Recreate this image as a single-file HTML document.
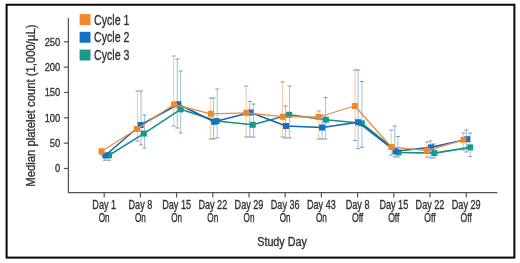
<!DOCTYPE html>
<html><head><meta charset="utf-8"><style>
html,body{margin:0;padding:0;background:#fff;}
body{width:520px;height:263px;overflow:hidden;position:relative;}
svg{position:absolute;left:0;top:0;filter:blur(0.4px);}
text{font-family:"Liberation Sans",sans-serif;fill:#333;stroke:#333;stroke-width:0.35px;}
.tk{font-size:11.6px;}
.xl{font-size:12.2px;}
.lg{font-size:14.6px;}
.tt{font-size:12.5px;}
.yt{font-size:13px;}
</style></head><body>
<svg width="520" height="263" viewBox="0 0 520 263">
<rect x="6.6" y="4.75" width="507.8" height="252.85" fill="none" stroke="#080808" stroke-width="2"/>
<path d="M68.4 18V192.7H497.3" fill="none" stroke="#555" stroke-width="1.3"/>
<path d="M63.8 168.5H68.5" stroke="#555" stroke-width="1.2"/>
<text transform="translate(60.3 172.4) scale(0.81 1)" text-anchor="end" class="tk">0</text>
<path d="M63.8 143.15H68.5" stroke="#555" stroke-width="1.2"/>
<text transform="translate(60.3 147.05) scale(0.81 1)" text-anchor="end" class="tk">50</text>
<path d="M63.8 117.8H68.5" stroke="#555" stroke-width="1.2"/>
<text transform="translate(60.3 121.7) scale(0.81 1)" text-anchor="end" class="tk">100</text>
<path d="M63.8 92.45H68.5" stroke="#555" stroke-width="1.2"/>
<text transform="translate(60.3 96.35) scale(0.81 1)" text-anchor="end" class="tk">150</text>
<path d="M63.8 67.1H68.5" stroke="#555" stroke-width="1.2"/>
<text transform="translate(60.3 71) scale(0.81 1)" text-anchor="end" class="tk">200</text>
<path d="M63.8 41.75H68.5" stroke="#555" stroke-width="1.2"/>
<text transform="translate(60.3 45.65) scale(0.81 1)" text-anchor="end" class="tk">250</text>
<path d="M104.2 192.7V197.5" stroke="#555" stroke-width="1.2"/>
<path d="M140.4 192.7V197.5" stroke="#555" stroke-width="1.2"/>
<path d="M176.6 192.7V197.5" stroke="#555" stroke-width="1.2"/>
<path d="M212.8 192.7V197.5" stroke="#555" stroke-width="1.2"/>
<path d="M249 192.7V197.5" stroke="#555" stroke-width="1.2"/>
<path d="M285.2 192.7V197.5" stroke="#555" stroke-width="1.2"/>
<path d="M321.4 192.7V197.5" stroke="#555" stroke-width="1.2"/>
<path d="M357.6 192.7V197.5" stroke="#555" stroke-width="1.2"/>
<path d="M393.8 192.7V197.5" stroke="#555" stroke-width="1.2"/>
<path d="M430 192.7V197.5" stroke="#555" stroke-width="1.2"/>
<path d="M466.2 192.7V197.5" stroke="#555" stroke-width="1.2"/>
<path d="M101.5 150V155" stroke="#f1cba2" stroke-width="1.1"/>
<path d="M99.5 150H103.5M99.5 155H103.5" stroke="#8f979e" stroke-width="1"/>
<path d="M137.5 91V141" stroke="#f1cba2" stroke-width="1.1"/>
<path d="M135.5 91H139.5M135.5 141H139.5" stroke="#8f979e" stroke-width="1"/>
<path d="M173.7 56V126" stroke="#f1cba2" stroke-width="1.1"/>
<path d="M171.7 56H175.7M171.7 126H175.7" stroke="#8f979e" stroke-width="1"/>
<path d="M210.8 98V139" stroke="#f1cba2" stroke-width="1.1"/>
<path d="M208.8 98H212.8M208.8 139H212.8" stroke="#8f979e" stroke-width="1"/>
<path d="M246.2 86V137" stroke="#f1cba2" stroke-width="1.1"/>
<path d="M244.2 86H248.2M244.2 137H248.2" stroke="#8f979e" stroke-width="1"/>
<path d="M282.6 82V137" stroke="#f1cba2" stroke-width="1.1"/>
<path d="M280.6 82H284.6M280.6 137H284.6" stroke="#8f979e" stroke-width="1"/>
<path d="M318.8 111V139" stroke="#f1cba2" stroke-width="1.1"/>
<path d="M316.8 111H320.8M316.8 139H320.8" stroke="#8f979e" stroke-width="1"/>
<path d="M355.1 70V140.6" stroke="#f1cba2" stroke-width="1.1"/>
<path d="M353.1 70H357.1M353.1 140.6H357.1" stroke="#8f979e" stroke-width="1"/>
<path d="M391.2 130V155" stroke="#f1cba2" stroke-width="1.1"/>
<path d="M389.2 130H393.2M389.2 155H393.2" stroke="#8f979e" stroke-width="1"/>
<path d="M427 142V157" stroke="#f1cba2" stroke-width="1.1"/>
<path d="M425 142H429M425 157H429" stroke="#8f979e" stroke-width="1"/>
<path d="M463.4 133V150" stroke="#f1cba2" stroke-width="1.1"/>
<path d="M461.4 133H465.4M461.4 150H465.4" stroke="#8f979e" stroke-width="1"/>
<path d="M105 154V160.3" stroke="#a0c3e4" stroke-width="1.1"/>
<path d="M103 154H107M103 160.3H107" stroke="#8f979e" stroke-width="1"/>
<path d="M141 91V145" stroke="#a0c3e4" stroke-width="1.1"/>
<path d="M139 91H143M139 145H143" stroke="#8f979e" stroke-width="1"/>
<path d="M177.3 59V128" stroke="#a0c3e4" stroke-width="1.1"/>
<path d="M175.3 59H179.3M175.3 128H179.3" stroke="#8f979e" stroke-width="1"/>
<path d="M213.6 98V139" stroke="#a0c3e4" stroke-width="1.1"/>
<path d="M211.6 98H215.6M211.6 139H215.6" stroke="#8f979e" stroke-width="1"/>
<path d="M249.8 101.5V137" stroke="#a0c3e4" stroke-width="1.1"/>
<path d="M247.8 101.5H251.8M247.8 137H251.8" stroke="#8f979e" stroke-width="1"/>
<path d="M285.5 106V138" stroke="#a0c3e4" stroke-width="1.1"/>
<path d="M283.5 106H287.5M283.5 138H287.5" stroke="#8f979e" stroke-width="1"/>
<path d="M322 115V139" stroke="#a0c3e4" stroke-width="1.1"/>
<path d="M320 115H324M320 139H324" stroke="#8f979e" stroke-width="1"/>
<path d="M358.1 70V148.7" stroke="#a0c3e4" stroke-width="1.1"/>
<path d="M356.1 70H360.1M356.1 148.7H360.1" stroke="#8f979e" stroke-width="1"/>
<path d="M394.7 126V157" stroke="#a0c3e4" stroke-width="1.1"/>
<path d="M392.7 126H396.7M392.7 157H396.7" stroke="#8f979e" stroke-width="1"/>
<path d="M430.5 141V158" stroke="#a0c3e4" stroke-width="1.1"/>
<path d="M428.5 141H432.5M428.5 158H432.5" stroke="#8f979e" stroke-width="1"/>
<path d="M466.4 130V152" stroke="#a0c3e4" stroke-width="1.1"/>
<path d="M464.4 130H468.4M464.4 152H468.4" stroke="#8f979e" stroke-width="1"/>
<path d="M109 154V160.3" stroke="#a2ccd3" stroke-width="1.1"/>
<path d="M107 154H111M107 160.3H111" stroke="#8f979e" stroke-width="1"/>
<path d="M144.5 115V148" stroke="#a2ccd3" stroke-width="1.1"/>
<path d="M142.5 115H146.5M142.5 148H146.5" stroke="#8f979e" stroke-width="1"/>
<path d="M180.6 71V133" stroke="#a2ccd3" stroke-width="1.1"/>
<path d="M178.6 71H182.6M178.6 133H182.6" stroke="#8f979e" stroke-width="1"/>
<path d="M217.2 89V138" stroke="#a2ccd3" stroke-width="1.1"/>
<path d="M215.2 89H219.2M215.2 138H219.2" stroke="#8f979e" stroke-width="1"/>
<path d="M253.5 104V137" stroke="#a2ccd3" stroke-width="1.1"/>
<path d="M251.5 104H255.5M251.5 137H255.5" stroke="#8f979e" stroke-width="1"/>
<path d="M289.5 86V138" stroke="#a2ccd3" stroke-width="1.1"/>
<path d="M287.5 86H291.5M287.5 138H291.5" stroke="#8f979e" stroke-width="1"/>
<path d="M325.5 97.5V139" stroke="#a2ccd3" stroke-width="1.1"/>
<path d="M323.5 97.5H327.5M323.5 139H327.5" stroke="#8f979e" stroke-width="1"/>
<path d="M362 81.5V147.3" stroke="#a2ccd3" stroke-width="1.1"/>
<path d="M360 81.5H364M360 147.3H364" stroke="#8f979e" stroke-width="1"/>
<path d="M397.9 136.5V157" stroke="#a2ccd3" stroke-width="1.1"/>
<path d="M395.9 136.5H399.9M395.9 157H399.9" stroke="#8f979e" stroke-width="1"/>
<path d="M434 144V158" stroke="#a2ccd3" stroke-width="1.1"/>
<path d="M432 144H436M432 158H436" stroke="#8f979e" stroke-width="1"/>
<path d="M470.2 133V156.7" stroke="#a2ccd3" stroke-width="1.1"/>
<path d="M468.2 133H472.2M468.2 156.7H472.2" stroke="#8f979e" stroke-width="1"/>
<path d="M109 155.3 L143.8 133.6 L180.7 109.3 L216.8 121 L252.7 124.8 L289.1 114.8 L325.9 119.7 L361.8 123.3 L398.5 152.5 L434.4 153.1 L470.2 147.4" fill="none" stroke="#168f86" stroke-width="1.6" stroke-linejoin="round"/>
<rect x="106" y="152.3" width="6" height="6" fill="#17998d"/>
<rect x="140.8" y="130.6" width="6" height="6" fill="#17998d"/>
<rect x="177.7" y="106.3" width="6" height="6" fill="#17998d"/>
<rect x="213.8" y="118" width="6" height="6" fill="#17998d"/>
<rect x="249.7" y="121.8" width="6" height="6" fill="#17998d"/>
<rect x="286.1" y="111.8" width="6" height="6" fill="#17998d"/>
<rect x="322.9" y="116.7" width="6" height="6" fill="#17998d"/>
<rect x="358.8" y="120.3" width="6" height="6" fill="#17998d"/>
<rect x="395.5" y="149.5" width="6" height="6" fill="#17998d"/>
<rect x="431.4" y="150.1" width="6" height="6" fill="#17998d"/>
<rect x="467.2" y="144.4" width="6" height="6" fill="#17998d"/>
<path d="M105.3 155.5 L140.6 125 L178.3 104.2 L214.2 121.8 L250.5 112.5 L286 126 L322.1 127.5 L358 122.2 L395.4 151.2 L431 147.4 L467.2 139.2" fill="none" stroke="#1a64b0" stroke-width="1.6" stroke-linejoin="round"/>
<rect x="102.3" y="152.5" width="6" height="6" fill="#1670c2"/>
<rect x="137.6" y="122" width="6" height="6" fill="#1670c2"/>
<rect x="175.3" y="101.2" width="6" height="6" fill="#1670c2"/>
<rect x="211.2" y="118.8" width="6" height="6" fill="#1670c2"/>
<rect x="247.5" y="109.5" width="6" height="6" fill="#1670c2"/>
<rect x="283" y="123" width="6" height="6" fill="#1670c2"/>
<rect x="319.1" y="124.5" width="6" height="6" fill="#1670c2"/>
<rect x="355" y="119.2" width="6" height="6" fill="#1670c2"/>
<rect x="392.4" y="148.2" width="6" height="6" fill="#1670c2"/>
<rect x="428" y="144.4" width="6" height="6" fill="#1670c2"/>
<rect x="464.2" y="136.2" width="6" height="6" fill="#1670c2"/>
<path d="M101.5 151.2 L137 129 L174 104.5 L210.8 113.8 L246.3 112.9 L282.8 116.7 L318.6 117 L354.8 106 L391.4 147 L426.8 150.6 L463.4 139.8" fill="none" stroke="#e58f40" stroke-width="1.3" stroke-linejoin="round"/>
<rect x="98.5" y="148.2" width="6" height="6" fill="#f4872a"/>
<rect x="134" y="126" width="6" height="6" fill="#f4872a"/>
<rect x="171" y="101.5" width="6" height="6" fill="#f4872a"/>
<rect x="207.8" y="110.8" width="6" height="6" fill="#f4872a"/>
<rect x="243.3" y="109.9" width="6" height="6" fill="#f4872a"/>
<rect x="279.8" y="113.7" width="6" height="6" fill="#f4872a"/>
<rect x="315.6" y="114" width="6" height="6" fill="#f4872a"/>
<rect x="351.8" y="103" width="6" height="6" fill="#f4872a"/>
<rect x="388.4" y="144" width="6" height="6" fill="#f4872a"/>
<rect x="423.8" y="147.6" width="6" height="6" fill="#f4872a"/>
<rect x="460.4" y="136.8" width="6" height="6" fill="#f4872a"/>
<text transform="translate(104.2 208.9) scale(0.745 1)" text-anchor="middle" class="xl">Day 1</text>
<text transform="translate(104.2 222.1) scale(0.67 1)" text-anchor="middle" class="xl">On</text>
<text transform="translate(140.4 208.9) scale(0.745 1)" text-anchor="middle" class="xl">Day 8</text>
<text transform="translate(140.4 222.1) scale(0.67 1)" text-anchor="middle" class="xl">On</text>
<text transform="translate(176.6 208.9) scale(0.745 1)" text-anchor="middle" class="xl">Day 15</text>
<text transform="translate(176.6 222.1) scale(0.67 1)" text-anchor="middle" class="xl">On</text>
<text transform="translate(212.8 208.9) scale(0.745 1)" text-anchor="middle" class="xl">Day 22</text>
<text transform="translate(212.8 222.1) scale(0.67 1)" text-anchor="middle" class="xl">On</text>
<text transform="translate(249 208.9) scale(0.745 1)" text-anchor="middle" class="xl">Day 29</text>
<text transform="translate(249 222.1) scale(0.67 1)" text-anchor="middle" class="xl">On</text>
<text transform="translate(285.2 208.9) scale(0.745 1)" text-anchor="middle" class="xl">Day 36</text>
<text transform="translate(285.2 222.1) scale(0.67 1)" text-anchor="middle" class="xl">On</text>
<text transform="translate(321.4 208.9) scale(0.745 1)" text-anchor="middle" class="xl">Day 43</text>
<text transform="translate(321.4 222.1) scale(0.67 1)" text-anchor="middle" class="xl">On</text>
<text transform="translate(357.6 208.9) scale(0.745 1)" text-anchor="middle" class="xl">Day 8</text>
<text transform="translate(357.6 222.1) scale(0.707 1)" text-anchor="middle" class="xl">Off</text>
<text transform="translate(393.8 208.9) scale(0.745 1)" text-anchor="middle" class="xl">Day 15</text>
<text transform="translate(393.8 222.1) scale(0.707 1)" text-anchor="middle" class="xl">Off</text>
<text transform="translate(430 208.9) scale(0.745 1)" text-anchor="middle" class="xl">Day 22</text>
<text transform="translate(430 222.1) scale(0.707 1)" text-anchor="middle" class="xl">Off</text>
<text transform="translate(466.2 208.9) scale(0.745 1)" text-anchor="middle" class="xl">Day 29</text>
<text transform="translate(466.2 222.1) scale(0.707 1)" text-anchor="middle" class="xl">Off</text>
<rect x="79.6" y="14.1" width="10.9" height="10.9" fill="#f4872a"/>
<text transform="translate(94 24.6) scale(0.73 1)" class="lg">Cycle 1</text>
<rect x="79.6" y="31.85" width="10.9" height="10.9" fill="#1670c2"/>
<text transform="translate(94 42.35) scale(0.73 1)" class="lg">Cycle 2</text>
<rect x="79.6" y="49.6" width="10.9" height="10.9" fill="#17998d"/>
<text transform="translate(94 60.1) scale(0.73 1)" class="lg">Cycle 3</text>
<text transform="translate(282 246.2) scale(0.86 1)" text-anchor="middle" class="tt">Study Day</text>
<text transform="translate(35.1 105.6) rotate(-90) scale(0.87 1)" text-anchor="middle" class="yt">Median platelet count (1,000/µL)</text>
</svg>
</body></html>
